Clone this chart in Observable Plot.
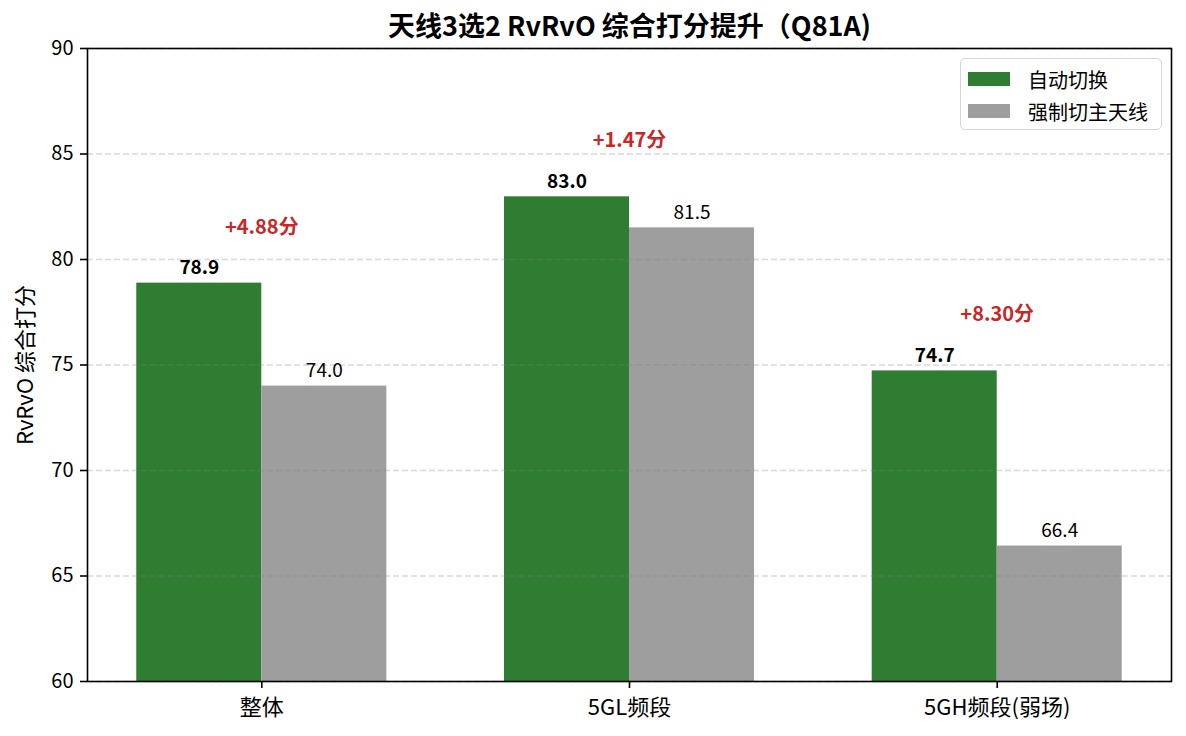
<!DOCTYPE html>
<html><head><meta charset="utf-8">
<script src="https://cdn.jsdelivr.net/npm/d3@7"></script>
<script src="https://cdn.jsdelivr.net/npm/@observablehq/plot@0.6"></script>
<style>
body{margin:0;background:#fff;}
#wrap{position:relative;width:1186px;height:736px;font-family:"Noto Sans CJK SC","Noto Sans",sans-serif;}
#wrap svg{display:block;}
.legend{position:absolute;left:960px;top:58px;width:202px;height:72px;border:1.5px solid #d6d6d6;border-radius:5px;background:rgba(255,255,255,0.8);box-sizing:border-box;}
.item{position:absolute;left:7px;height:24px;display:flex;align-items:center;font-size:20px;color:#000;white-space:nowrap;}
.sw{width:42px;height:14px;margin-right:18px;}
</style></head><body><div id="wrap"></div>
<script>
const categories = ["整体", "5GL频段", "5GH频段(弱场)"];
const autoScores = [78.88, 82.97, 74.72];
const forcedScores = [74.00, 81.50, 66.42];
const seriesNames = ["自动切换", "强制切主天线"];
const seriesColors = ["#2e7d32", "#9e9e9e"];
const yTicks = [60, 65, 70, 75, 80, 85, 90];
const yDomain = [60, 90];
const titleText = "天线3选2 RvRvO 综合打分提升（Q81A)";
const yLabel = "RvRvO 综合打分";
const barWidth = 0.34;

const bars = categories.flatMap((c, i) => [
  {i, series: seriesNames[0], value: autoScores[i], x1: i - barWidth, x2: i},
  {i, series: seriesNames[1], value: forcedScores[i], x1: i, x2: i + barWidth}
]);
const diffs = categories.map((c, i) => ({i, top: Math.max(autoScores[i], forcedScores[i]), diff: autoScores[i] - forcedScores[i]}));

const chart = Plot.plot({
  width: 1186, height: 736,
  marginLeft: 87, marginRight: 15, marginTop: 48, marginBottom: 55,
  style: {fontFamily: '"Noto Sans CJK SC", "Noto Sans", sans-serif', fontSize: "20px", color: "#000", background: "#fff"},
  x: {type: "linear", domain: [-0.474, 2.474]},
  y: {domain: yDomain},
  color: {domain: seriesNames, range: seriesColors},
  marks: [
    Plot.rect(bars, {x1: "x1", x2: "x2", y1: yDomain[0], y2: "value", fill: "series"}),
    Plot.gridY(yTicks, {stroke: "#808080", strokeOpacity: 0.3, strokeDasharray: "6,3", strokeWidth: 1.5}),
    Plot.text(bars.filter(d => d.series === seriesNames[0]), {x: d => (d.x1 + d.x2) / 2, y: "value", text: d => d.value.toFixed(1), lineAnchor: "bottom", dy: -9, fontSize: 19, fontWeight: "bold", fill: "#000"}),
    Plot.text(bars.filter(d => d.series === seriesNames[1]), {x: d => (d.x1 + d.x2) / 2, y: "value", text: d => d.value.toFixed(1), lineAnchor: "bottom", dy: -9, fontSize: 19, fill: "#000"}),
    Plot.text(diffs, {x: "i", y: "top", text: d => `+${d.diff.toFixed(2)}分`, dy: -56, fontSize: 20, fontWeight: "bold", fill: "#c62828"}),
    Plot.axisY(yTicks, {tickSize: 7, tickPadding: 7, fontSize: 20, label: null, strokeWidth: 1.6, stroke: "#000", fill: "#000"}),
    Plot.axisX([0, 1, 2], {tickFormat: i => categories[i], tickSize: 7, tickPadding: 11, fontSize: 22, label: null, strokeWidth: 1.6, stroke: "#000", fill: "#000"}),
    Plot.frame({stroke: "#000", strokeWidth: 1.6}),
    Plot.text([titleText], {text: d => d, frameAnchor: "top", textAnchor: "middle", lineAnchor: "middle", dy: -21, fontSize: 27, fontWeight: "bold", fill: "#000"}),
    Plot.text([yLabel], {text: d => d, frameAnchor: "left", textAnchor: "middle", lineAnchor: "middle", rotate: -90, dx: -62, fontSize: 22, fill: "#000"})
  ]
});
const wrap = document.getElementById("wrap");
wrap.appendChild(chart);

const legend = document.createElement("div");
legend.className = "legend";
seriesNames.forEach((name, k) => {
  const item = document.createElement("div");
  item.className = "item";
  item.style.top = (8 + k * 32) + "px";
  const sw = document.createElement("div");
  sw.className = "sw";
  sw.style.background = seriesColors[k];
  const label = document.createElement("span");
  label.textContent = name;
  item.appendChild(sw);
  item.appendChild(label);
  legend.appendChild(item);
});
wrap.appendChild(legend);
</script>
</body></html>
